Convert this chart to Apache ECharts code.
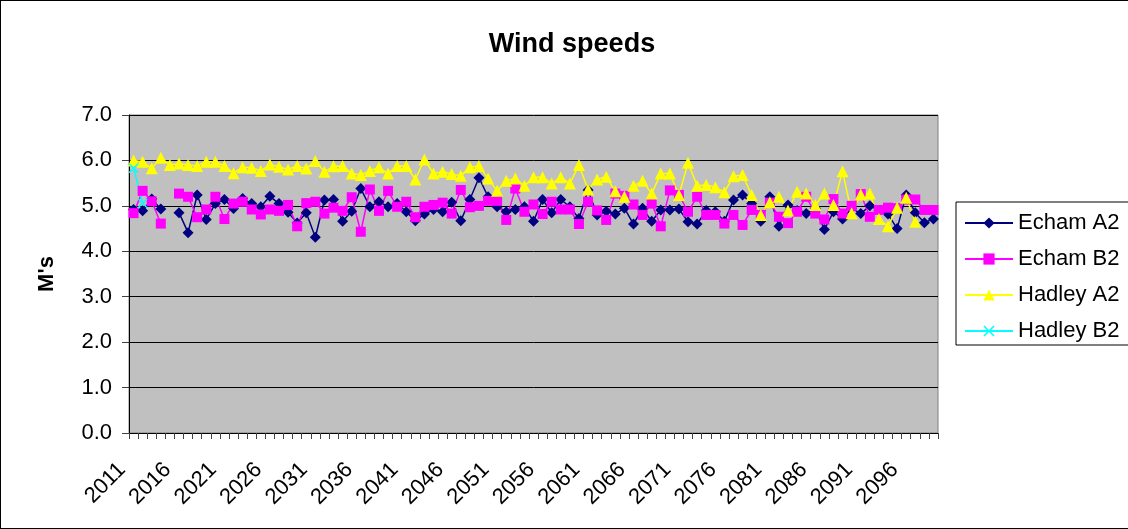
<!DOCTYPE html>
<html>
<head>
<meta charset="utf-8">
<title>Wind speeds</title>
<script src="https://cdn.jsdelivr.net/npm/echarts@6/dist/echarts.min.js"></script>
<style>
  html, body { margin: 0; padding: 0; background: #fff; overflow: hidden; }
  #chart { position: absolute; left: 0; top: 0; width: 1144px; height: 529px; }
  #frame { position: absolute; left: 0; top: 0; width: 1144px; height: 529px;
           border: 1px solid #000; box-sizing: border-box; pointer-events: none; }
</style>
</head>
<body>
<div id="chart"></div>
<div id="frame"></div>
<script>
// Years on the category axis
const years = [
  '2011','2012','2013','2014','2015','2016','2017','2018','2019','2020',
  '2021','2022','2023','2024','2025','2026','2027','2028','2029','2030',
  '2031','2032','2033','2034','2035','2036','2037','2038','2039','2040',
  '2041','2042','2043','2044','2045','2046','2047','2048','2049','2050',
  '2051','2052','2053','2054','2055','2056','2057','2058','2059','2060',
  '2061','2062','2063','2064','2065','2066','2067','2068','2069','2070',
  '2071','2072','2073','2074','2075','2076','2077','2078','2079','2080',
  '2081','2082','2083','2084','2085','2086','2087','2088','2089','2090',
  '2091','2092','2093','2094','2095','2096','2097','2098','2099'
];

// Mean wind speed per year (m/s) for each model run
const echamA2 = [
  4.92, 4.89, 5.15, 4.93, null, 4.85, 4.41, 5.24, 4.70, 5.05,
  5.14, 4.94, 5.16, 5.05, 4.98, 5.21, 5.05, 4.86, 4.62, 4.85,
  4.31, 5.13, 5.14, 4.66, 4.88, 5.38, 4.98, 5.09, 4.98, 5.05,
  4.87, 4.67, 4.82, 4.92, 4.87, 5.08, 4.67, 5.14, 5.62, 5.20,
  4.98, 4.87, 4.92, 4.98, 4.66, 5.14, 4.85, 5.14, 4.98, 4.72,
  5.35, 4.80, 4.88, 4.82, 4.95, 4.60, 4.95, 4.66, 4.91, 4.91,
  4.93, 4.65, 4.60, 4.90, 4.87, 4.66, 5.13, 5.24, 5.05, 4.66,
  5.20, 4.55, 5.02, 4.90, 4.83, 4.95, 4.48, 4.87, 4.71, 4.95,
  4.83, 5.00, 4.90, 4.82, 4.50, 5.24, 4.85, 4.63, 4.71
];

const echamB2 = [
  4.84, 5.33, 5.10, 4.61, null, 5.27, 5.20, 4.75, 4.92, 5.20,
  4.71, 5.05, 5.09, 4.92, 4.81, 4.92, 4.89, 5.02, 4.55, 5.06,
  5.09, 4.83, 4.96, 4.89, 5.19, 4.43, 5.36, 4.89, 5.33, 4.98,
  5.09, 4.75, 4.98, 5.02, 5.07, 4.83, 5.35, 4.97, 5.00, 5.11,
  5.11, 4.69, 5.38, 4.87, 5.03, 4.82, 5.09, 4.92, 4.92, 4.60,
  5.09, 4.90, 4.69, 5.27, 5.22, 5.03, 4.80, 5.05, 4.55, 5.34,
  5.24, 4.87, 5.20, 4.80, 4.80, 4.61, 4.80, 4.58, 4.91, 4.80,
  5.07, 4.76, 4.62, 4.87, 5.20, 4.83, 4.70, 5.15, 4.83, 5.00,
  5.26, 4.76, 4.91, 4.96, 4.95, 5.14, 5.14, 4.91, 4.91
];

const hadleyA2 = [
  6.00, 5.97, 5.83, 6.06, 5.90, 5.93, 5.90, 5.88, 5.97, 5.97,
  5.88, 5.72, 5.85, 5.84, 5.77, 5.91, 5.86, 5.80, 5.88, 5.82,
  5.99, 5.75, 5.87, 5.88, 5.71, 5.68, 5.77, 5.85, 5.71, 5.88,
  5.88, 5.58, 6.02, 5.71, 5.75, 5.70, 5.66, 5.85, 5.88, 5.60,
  5.33, 5.55, 5.60, 5.44, 5.63, 5.63, 5.49, 5.63, 5.49, 5.90,
  5.36, 5.58, 5.64, 5.32, 5.20, 5.44, 5.55, 5.27, 5.71, 5.71,
  5.24, 5.95, 5.44, 5.46, 5.41, 5.30, 5.65, 5.68, 5.24, 4.80,
  5.08, 5.20, 4.90, 5.31, 5.27, 5.02, 5.27, 5.02, 5.76, 4.84,
  5.25, 5.27, 4.71, 4.55, 4.96, 5.18, 4.65, null, null
];

const hadleyB2 = [5.83, 5.06];

// Y axis range
const yMin = 0, yMax = 7, yStep = 1;

const FONT = "'Liberation Sans', Arial, sans-serif";
const crossSymbol = 'path://M0,1L1,0L5,4L9,0L10,1L6,5L10,9L9,10L5,6L1,10L0,9L4,5Z';

const chart = echarts.init(document.getElementById('chart'), null, { renderer: 'canvas' });

function lineSeries(name, data, color, symbol, size) {
  return {
    name: name,
    type: 'line',
    data: data,
    symbol: symbol,
    symbolSize: size,
    showAllSymbol: true,
    connectNulls: false,
    animation: false,
    lineStyle: { color: color, width: 1.5 },
    itemStyle: { color: color, borderWidth: 0 },
    emphasis: { disabled: true }
  };
}

chart.setOption({
  animation: false,
  backgroundColor: '#ffffff',
  textStyle: { fontFamily: FONT },
  title: {
    text: 'Wind speeds',
    left: 'center',
    top: 26,
    textStyle: { fontFamily: FONT, fontSize: 27, fontWeight: 'bold', color: '#000' }
  },
  legend: {
    orient: 'vertical',
    left: 956,
    top: 202,
    padding: [10, 60, 3, 8],
    itemGap: 14,
    itemWidth: 48,
    itemHeight: 14,
    backgroundColor: '#ffffff',
    borderColor: '#000000',
    borderWidth: 1,
    textStyle: { fontFamily: FONT, fontSize: 22, color: '#000' },
    data: ['Echam A2', 'Echam B2', 'Hadley A2', 'Hadley B2']
  },
  grid: {
    left: 129,
    top: 115,
    width: 809,
    height: 318,
    show: true,
    backgroundColor: '#c0c0c0',
    borderColor: '#808080',
    borderWidth: 1,
    containLabel: false
  },
  xAxis: {
    type: 'category',
    data: years,
    boundaryGap: true,
    axisLine: { lineStyle: { color: '#000', width: 1 } },
    axisTick: { show: true, interval: 0, length: 6, lineStyle: { color: '#404040' } },
    axisLabel: {
      interval: 4,
      rotate: 45,
      margin: 22,
      padding: [0, 16, 0, 0],
      fontFamily: FONT,
      fontSize: 22,
      color: '#000'
    },
    splitLine: { show: false }
  },
  yAxis: {
    type: 'value',
    min: yMin,
    max: yMax,
    interval: yStep,
    name: "M's",
    nameLocation: 'middle',
    nameGap: 71,
    nameRotate: 90,
    nameTextStyle: { fontFamily: FONT, fontSize: 22, fontWeight: 'bold', color: '#000' },
    axisLine: { show: true, lineStyle: { color: '#000', width: 1 } },
    axisTick: { show: true, length: 7, lineStyle: { color: '#404040' } },
    axisLabel: {
      margin: 17,
      fontFamily: FONT,
      fontSize: 22,
      color: '#000',
      formatter: function (v) { return v.toFixed(1); }
    },
    splitLine: { show: true, lineStyle: { color: '#000', width: 1 } }
  },
  series: [
    lineSeries('Echam A2', echamA2, '#000080', 'diamond', 11),
    lineSeries('Echam B2', echamB2, '#ff00ff', 'rect', 10),
    lineSeries('Hadley A2', hadleyA2, '#ffff00', 'triangle', 12),
    lineSeries('Hadley B2', hadleyB2, '#00ffff', crossSymbol, 10)
  ]
});
</script>
</body>
</html>
